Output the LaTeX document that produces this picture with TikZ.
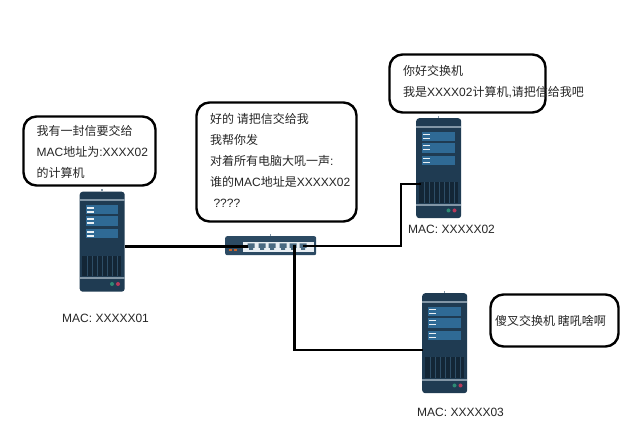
\documentclass[tikz,border=0pt]{standalone}
\usepackage{fontspec}
\setmainfont{Liberation Sans}
\newfontfamily\cjk{Noto Sans CJK SC}
\definecolor{srvbody}{HTML}{1F3B52}
\definecolor{srvband}{HTML}{8296A6}
\definecolor{srvpanel}{HTML}{2F6A95}
\definecolor{srvvent}{HTML}{132636}
\definecolor{srvline}{HTML}{2D4D66}
\definecolor{ledgreen}{HTML}{2E8B74}
\definecolor{ledred}{HTML}{B8395A}
\definecolor{swbody}{HTML}{2C4A63}
\definecolor{swpanel}{HTML}{E8EEF3}
\definecolor{swport}{HTML}{4A6A82}
\definecolor{swled}{HTML}{C8622A}
\tikzset{
  bubble/.style={draw=black,line width=2.4pt,rounded corners=13pt,fill=white,inner sep=0pt},
  bubbletext/.style={anchor=west,align=left,inner sep=0pt,font=\fontsize{12}{21}\selectfont\color{black!85}},
  maclabel/.style={anchor=west,inner sep=0pt,font=\fontsize{12}{14}\selectfont\color{black!85}},
  srvnode/.style={fill=srvbody,rounded corners=3pt,minimum width=45pt,minimum height=100pt,inner sep=0pt},
  link/.style={draw=black,line width=2.2pt},
  linkthick/.style={draw=black,line width=3pt}
}
\newcommand{\srvat}[3]{%
  \node[srvnode,anchor=north west] (#1) at (#2,#3) {};
  \begin{scope}[shift={(#2,#3)}]
    \fill[srvband] (21.8,-2) rectangle (23.2,0);
    \fill[srvband] (0,8) rectangle (45,10);
    \foreach \py/\ph in {14/9,25/10,38/9}{
      \fill[srvpanel] (6,\py) rectangle (38.5,\py+\ph);
      \fill[white!90!srvpanel] (7,\py+2) rectangle (14,\py+3.3);
      \fill[white!90!srvpanel] (7,\py+6) rectangle (14,\py+7.3);
    }
    \fill[srvvent] (2.5,64.5) rectangle (41.5,85);
    \foreach \vx in {8,13,...,40}{\draw[srvline,line width=0.5pt] (\vx,64.5) -- (\vx,85);}
    \fill[srvband] (0,86) rectangle (45,88);
    \fill[ledgreen] (32.5,92.5) circle (2pt);
    \fill[ledred] (38.5,92.5) circle (2pt);
  \end{scope}
}
\begin{document}
\begin{tikzpicture}[x=1pt,y=-1pt]
\useasboundingbox (0,0) rectangle (627,438);
\fill[white] (0,0) rectangle (627,438);

% servers
\srvat{srvA}{79.5}{191.5}
\srvat{srvB}{416}{118}
\srvat{srvC}{422}{293}

% switch
\node[fill=swbody,rounded corners=2pt,minimum width=91pt,minimum height=19pt,inner sep=0pt,anchor=north west] (sw) at (225,236) {};
\fill[srvband] (269.5,234) rectangle (271,236);
\fill[swpanel] (243,242) rectangle (313.5,252.5);
\foreach \px in {251,262,272,283,293,303}{
  \fill[swport] (\px-3.5,243.5) rectangle (\px+3.5,248) (\px-2,248) rectangle (\px+2,250);
}
\fill[swled] (228.5,249.5) rectangle (232,251);
\fill[swled] (233.5,249.5) rectangle (237,251);

% connector ends
\coordinate (portA) at (248,247);
\coordinate (portB) at (303,246);
\coordinate (portC) at (294.5,245);
\coordinate (inA) at (124.5,247);
\coordinate (inB) at (421,184);
\coordinate (inC) at (423,350);

\draw[linkthick] (inA) -- (portA);
\draw[link] (portB) -- (401,246) -- (401,184) -- (inB);
\draw[link] (portC) -- (294.5,350) -- (inC);

% bubbles
\node[bubble,minimum width=132pt,minimum height=69pt] (bA) at (89.5,151) {};
\node[bubble,minimum width=160pt,minimum height=119pt] (bS) at (276.5,162) {};
\node[bubble,minimum width=156pt,minimum height=58pt] (bB) at (467.5,83.5) {};
\node[bubble,minimum width=128pt,minimum height=52pt] (bC) at (554.5,320.5) {};

% bubble texts
\node[bubbletext] (tA) at (36.5,152) {{\cjk 我有一封信要交给}\\MAC{\cjk 地址为}:XXXX02\\{\cjk 的计算机}};
\node[bubbletext] (tS) at (210,160.5) {{\cjk 好的 请把信交给我}\\{\cjk 我帮你发}\\{\cjk 对着所有电脑大吼一声}:\\{\cjk 谁的}MAC{\cjk 地址是}XXXXX02\\\ ????};
\node[bubbletext] (tB) at (403,82) {{\cjk 你好交换机}\\{\cjk 我是}XXXX02{\cjk 计算机},{\cjk 请把信给我吧}};
\node[bubbletext] (tC) at (495,321) {{\cjk 傻叉交换机 瞎吼啥啊}};

% mac labels
\node[maclabel] (mA) at (62,318.5) {MAC: XXXXX01};
\node[maclabel] (mB) at (408,229.5) {MAC: XXXXX02};
\node[maclabel] (mC) at (417,412) {MAC: XXXXX03};
\end{tikzpicture}
\end{document}
